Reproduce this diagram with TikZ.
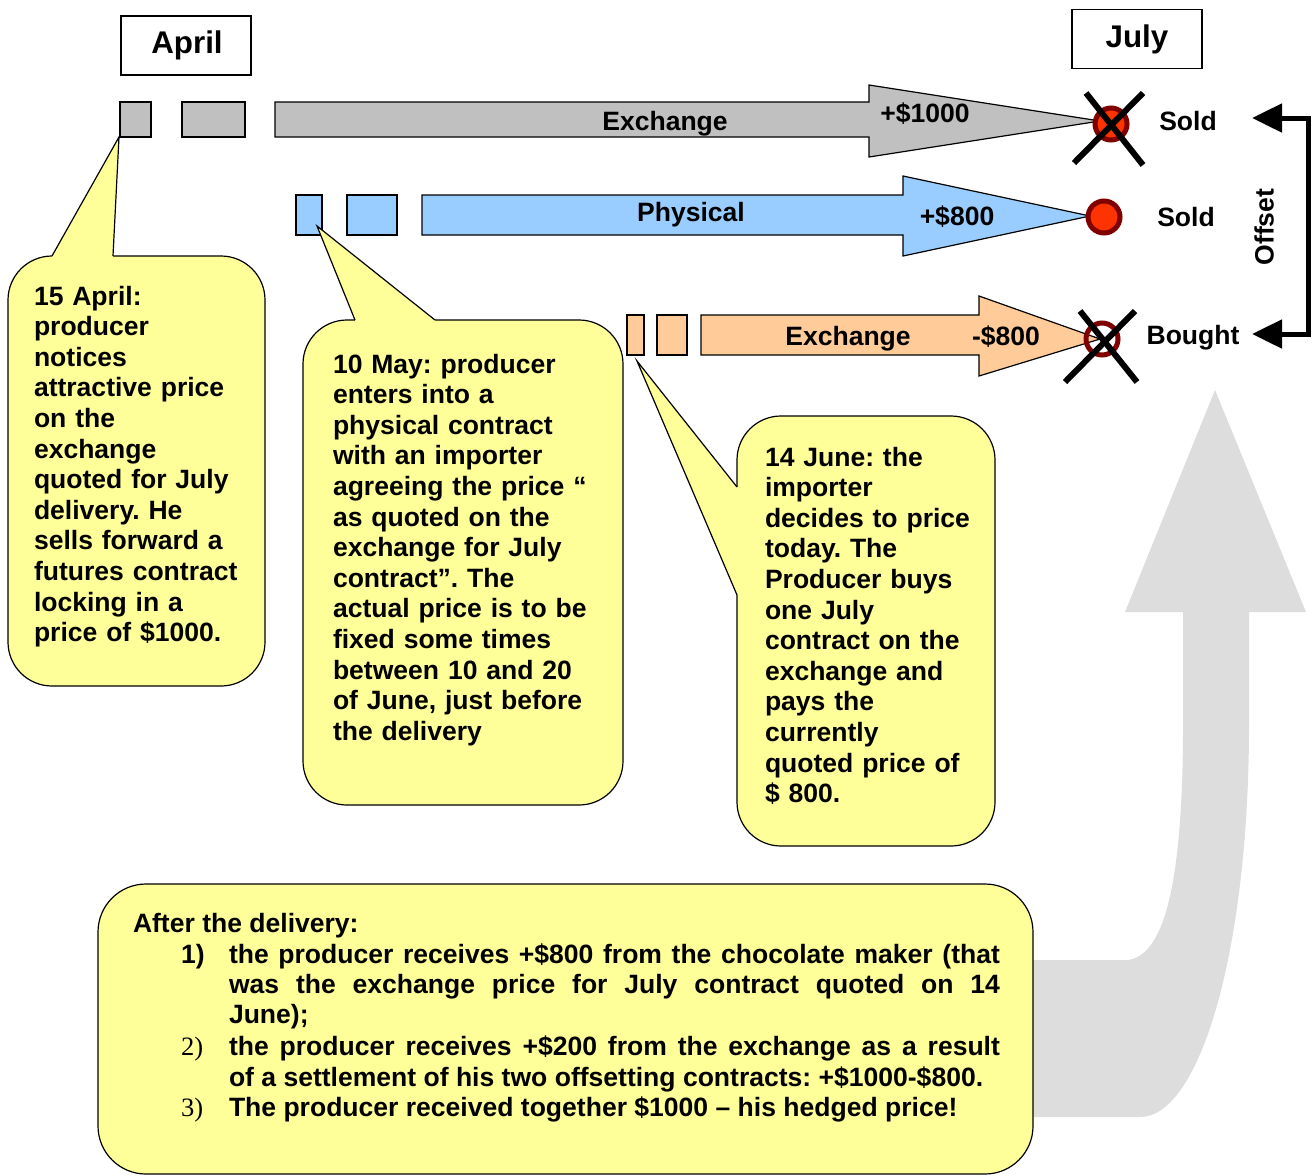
\documentclass[tikz,border=0pt]{standalone}
\usepackage{fontspec}
\setmainfont{Liberation Sans}
\newfontfamily\numserif{Liberation Serif}
\usetikzlibrary{arrows.meta}
\definecolor{greyarr}{HTML}{C0C0C0}
\definecolor{bluearr}{HTML}{99CCFF}
\definecolor{orangearr}{HTML}{FFCC99}
\definecolor{calloutyellow}{HTML}{FFFF99}
\definecolor{dotred}{HTML}{FF3300}
\definecolor{ringred}{HTML}{800000}
\definecolor{bigarrow}{HTML}{DDDDDD}
\frenchspacing
\begin{document}
\begin{tikzpicture}[x=0.75pt,y=-0.75pt,
  every node/.style={inner sep=0pt, outer sep=0pt},
  bodyfont/.style={font=\fontsize{19.9}{22.95}\selectfont\bfseries},
  numfont/.style={font=\fontsize{19.9}{22.95}\selectfont\numserif},
  titlefont/.style={font=\fontsize{23.5}{28}\selectfont\bfseries},
  titlebox/.style={draw=black, line width=1pt, minimum width=97.5pt, minimum height=44.25pt},
  thinline/.style={draw=black, line width=0.9pt},
  calloutbox/.style={fill=calloutyellow, draw=black, line width=0.9pt, rounded corners=33pt},
  tailline/.style={draw=black, line width=0.9pt, line join=miter},
  xmark/.style={draw=black, line width=4.5pt},
  ring/.style={circle, draw=ringred, line width=3.75pt, minimum size=24pt},
  offsetarrow/.style={draw=black, line width=3.75pt, line join=miter,
     {Triangle[length=22.5pt,width=21pt]}-{Triangle[length=22.5pt,width=21pt]}},
  calltext/.style={bodyfont, align=left, text width=240pt, anchor=base west},
  line/.style={bodyfont, anchor=base west},
]
\useasboundingbox (0,0) rectangle (1316,1175);

% big grey background arrow
\fill[bigarrow] (1020,960) -- (1128,960) .. controls (1165,955) and (1183,880) .. (1183,725)
  -- (1183,612) -- (1125,612) -- (1215,390) -- (1306,612) -- (1249,612) -- (1249,725)
  .. controls (1249,950) and (1200,1117) .. (1140,1117) -- (1020,1117) -- cycle;

% title boxes
\node[titlebox] (aprilbox) at (186,45.5) {};
\node[titlefont, anchor=base] (april) at (187,53) {April};
\node[titlebox] (julybox) at (1137,39) {};
\node[titlefont, anchor=base] (july) at (1137,47) {July};

% grey row
\filldraw[fill=greyarr, thinline] (120,102) rectangle (151,137);
\filldraw[fill=greyarr, thinline] (182,102) rectangle (245,137);
\filldraw[fill=greyarr, thinline] (275,102) -- (869,102) -- (869,85) -- (1100,121)
  -- (869,157) -- (869,137) -- (275,137) -- cycle;
% blue row
\filldraw[fill=bluearr, thinline] (296,195) rectangle (322,235);
\filldraw[fill=bluearr, thinline] (347,195) rectangle (397,235);
\filldraw[fill=bluearr, thinline] (422,195) -- (903,195) -- (903,176) -- (1090,216)
  -- (903,256) -- (903,235) -- (422,235) -- cycle;
% orange row
\filldraw[fill=orangearr, thinline] (627,315) rectangle (644,355);
\filldraw[fill=orangearr, thinline] (657,315) rectangle (687,355);
\filldraw[fill=orangearr, thinline] (701,315) -- (979,315) -- (979,296) -- (1100,339)
  -- (979,376) -- (979,355) -- (701,355) -- cycle;

% arrow labels
\node[bodyfont, anchor=base] (exch1) at (665,130) {Exchange};
\node[bodyfont, anchor=base] (amt1) at (925,122) {+\$1000};
\node[bodyfont, anchor=base] (phys) at (691,221) {Physical};
\node[bodyfont, anchor=base] (amt2) at (957,225) {+\$800};
\node[bodyfont, anchor=base] (exch2) at (848,345) {Exchange};
\node[bodyfont, anchor=base] (amt3) at (1006,345) {-\$800};

% end points
\node[ring, fill=dotred] (dot1) at (1111,124) {};
\node[ring, fill=dotred] (dot2) at (1104,217) {};
\node[ring] (dot3) at (1102,339) {};
\draw[xmark] (1086,93) -- (1143,165);
\draw[xmark] (1143,93) -- (1074,163);
\draw[xmark] (1080,311) -- (1137,382);
\draw[xmark] (1135,311) -- (1065,382);

\node[bodyfont, anchor=base] (sold1) at (1188,130) {Sold};
\node[bodyfont, anchor=base] (sold2) at (1186,226) {Sold};
\node[bodyfont, anchor=base] (bought) at (1193,344) {Bought};

% offset bracket
\coordinate (offA) at (1252,118);
\coordinate (offB) at (1252,334);
\draw[offsetarrow] (offA) -- (1308,118) -- (1308,334) -- (offB);
\node[bodyfont, rotate=90] (offset) at (1264,227) {Offset};

% callout 1
\draw[calloutbox] (8,256) rectangle (265,686);
\fill[calloutyellow] (52,256) -- (119,137) -- (113,256) -- (113,260) -- (52,260) -- cycle;
\draw[tailline] (52,256) -- (119,137) -- (113,256);
\node[calltext] (c1text) at (34,305) {15 April:\\producer\\notices\\attractive price\\on the\\exchange\\quoted for July\\delivery. He\\sells forward a\\futures contract\\locking in a\\price of \$1000.};

% callout 2
\draw[calloutbox] (303,320) rectangle (623,805);
\fill[calloutyellow] (355,320) -- (317,226) -- (435,320) -- (435,324) -- (355,324) -- cycle;
\draw[tailline] (355,320) -- (317,226) -- (435,320);
\node[calltext] (c2text) at (333,373) {10 May: producer\\enters into a\\physical contract\\with an importer\\agreeing the price “\\as quoted on the\\exchange for July\\contract”. The\\actual price is to be\\fixed some times\\between 10 and 20\\of June, just before\\the delivery};

% callout 3
\draw[calloutbox] (737,416) rectangle (995,846);
\fill[calloutyellow] (737,487) -- (637,361) -- (737,595) -- (741,595) -- (741,487) -- cycle;
\draw[tailline] (737,487) -- (637,361) -- (737,595);
\node[calltext] (c3text) at (765,466) {14 June: the\\importer\\decides to price\\today. The\\Producer buys\\one July\\contract on the\\exchange and\\pays the\\currently\\quoted price of\\\$ 800.};

% bottom summary box
\draw[calloutbox, rounded corners=36pt] (98,884) rectangle (1033,1174);
\node[line] (after) at (133,932) {After the delivery:};
\node[line] (n1) at (181,963) {1)};
\node[line] (l1a) at (229,963) {\makebox[578.25pt][s]{the producer receives +\$800 from the chocolate maker (that}};
\node[line] (l1b) at (229,993) {\makebox[578.25pt][s]{was the exchange price for July contract quoted on 14}};
\node[line] (l1c) at (229,1023) {June);};
\node[numfont, anchor=base west] (n2) at (181,1055) {2)};
\node[line] (l2a) at (229,1055) {\makebox[578.25pt][s]{the producer receives +\$200 from the exchange as a result}};
\node[line] (l2b) at (229,1086) {of a settlement of his two offsetting contracts: +\$1000-\$800.};
\node[numfont, anchor=base west] (n3) at (181,1116) {3)};
\node[line] (l3) at (229,1116) {The producer received together \$1000 \textendash\ his hedged price!};
\end{tikzpicture}
\end{document}
